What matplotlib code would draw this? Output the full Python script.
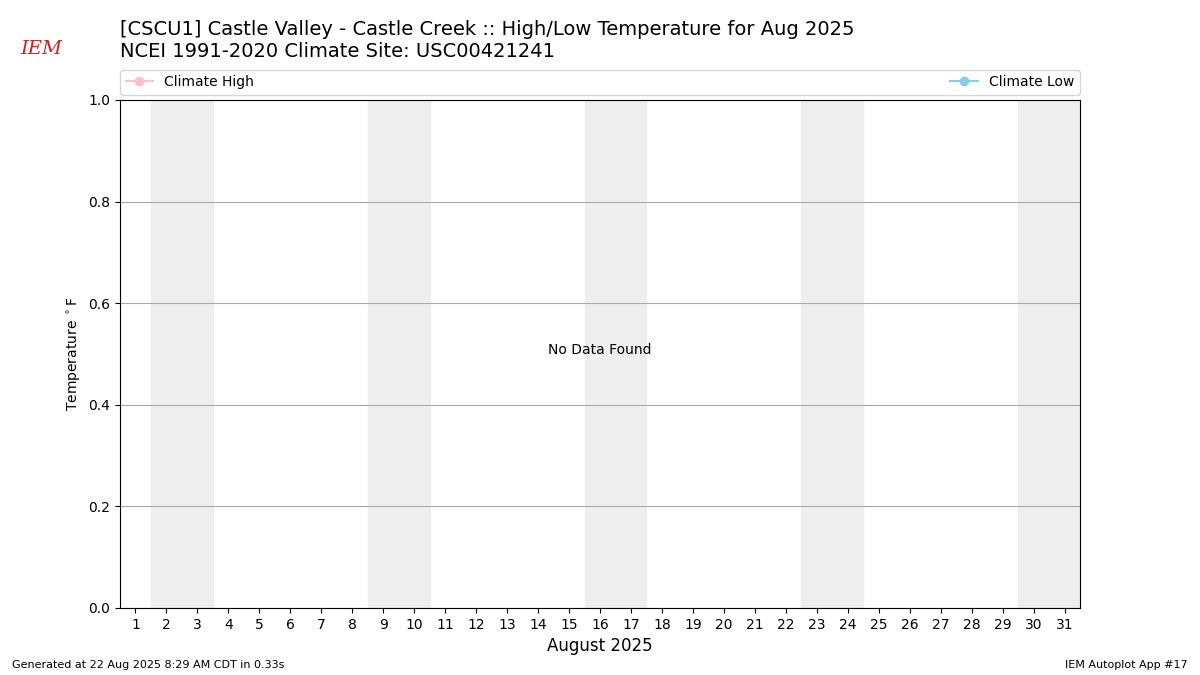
import matplotlib
matplotlib.use("Agg")
import matplotlib.pyplot as plt

days = list(range(1, 32))
weekend_starts = [2, 9, 16, 23, 30]
title = "[CSCU1] Castle Valley - Castle Creek :: High/Low Temperature for Aug 2025\nNCEI 1991-2020 Climate Site: USC00421241"

fig = plt.figure(figsize=(12, 6.75), dpi=100)
ax = fig.add_axes([0.1, 0.0993, 0.8, 0.7526])

for d in weekend_starts:
    ax.axvspan(d - 0.5, d + 1.5, color="#eeeeee", zorder=0)

ax.plot([], [], marker="o", color="pink", label="Climate High")
ax.plot([], [], marker="o", color="skyblue", label="Climate Low")
ax.legend(loc="lower left", bbox_to_anchor=(0, 1.01, 1, 0.05), ncol=2, mode="expand",
          borderaxespad=0, fontsize=10)

ax.text(0.5, 0.508, "No Data Found", transform=ax.transAxes, ha="center", va="center")
ax.set_xlim(0.5, 31.5)
ax.set_ylim(0, 1)
ax.set_xticks(days)
ax.set_xticklabels([str(d) for d in days])
ax.set_xlabel("August 2025", fontsize=12)
ax.set_ylabel("Temperature $^\\circ$F")
ax.grid(axis="y", color="#aaaaaa")
ax.set_axisbelow(True)

fig.text(0.1, 0.91, title, fontsize=14, va="bottom")
fig.text(0.01, 0.01, "Generated at 22 Aug 2025 8:29 AM CDT in 0.33s", fontsize=8)
fig.text(0.99, 0.01, "IEM Autoplot App #17", fontsize=8, ha="right")
fig.text(0.017, 0.92, "IEM", fontsize=14, color="#cc2222", style="italic", family="serif")

fig.savefig("out.png", dpi=100)
